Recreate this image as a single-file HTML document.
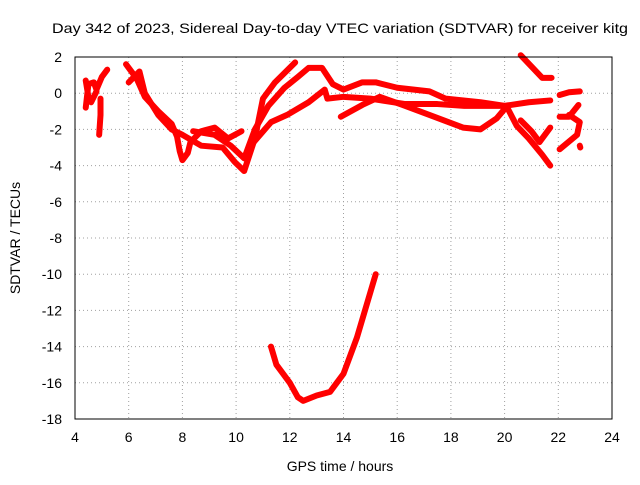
<!DOCTYPE html>
<html><head><meta charset="utf-8"><style>
body{margin:0;background:#fff;width:640px;height:480px;overflow:hidden}
svg text{font-family:"Liberation Sans",sans-serif;font-size:14px;fill:#000}
</style></head><body>
<svg id="chart" width="640" height="480" viewBox="0 0 640 480" xmlns="http://www.w3.org/2000/svg">
<text x="52" y="33" textLength="576" lengthAdjust="spacingAndGlyphs">Day 342 of 2023, Sidereal Day-to-day VTEC variation (SDTVAR) for receiver kitg</text>
<g id="grid"></g>
<g id="ticks"></g>
<g id="series"></g>
<rect x="75" y="57" width="537" height="362" fill="none" stroke="#000" stroke-width="1"/>
<text x="340" y="471" text-anchor="middle">GPS time / hours</text>
<text transform="translate(20,238) rotate(-90)" text-anchor="middle">SDTVAR / TECUs</text>
</svg>
<script>
const xTicks=[4,6,8,10,12,14,16,18,20,22,24];
const yTicks=[2,0,-2,-4,-6,-8,-10,-12,-14,-16,-18];
const s1=[[4.4,-0.8],[4.5,0.5],[4.7,0.6],[4.8,0.2],[5.0,0.9],[5.2,1.3]];
const s2=[[4.4,0.7],[4.5,-0.2],[4.6,-0.5],[4.8,0.1]];
const s3=[[4.95,-0.3],[4.95,-1.2],[4.9,-2.3]];
const s4=[[5.9,1.6],[6.3,0.8],[6.6,-0.2],[7.1,-1.0],[7.6,-1.7],[7.8,-2.4],[7.9,-3.2],[8.0,-3.7],[8.2,-3.3],[8.3,-2.7],[8.7,-2.1],[9.2,-1.9],[9.7,-2.5],[10.2,-2.1]];
const s5=[[6.0,0.6],[6.4,1.2],[6.6,0],[7.1,-1.2],[7.6,-2.0],[8.0,-2.3],[8.7,-2.9],[9.5,-3.0],[9.95,-3.8],[10.3,-4.3],[10.7,-2.5],[11.0,-0.3],[11.45,0.6],[12.2,1.7]];
const s6=[[8.4,-2.1],[9.2,-2.3],[9.8,-2.9],[10.3,-3.6],[10.7,-2.0],[11.2,-0.7],[11.8,0.3],[12.3,0.9],[12.7,1.4],[13.2,1.4],[13.6,0.5],[14.0,0.2],[14.7,0.6],[15.2,0.6],[16.0,0.3],[17.2,0.1],[17.8,-0.3],[19.1,-0.5],[20.0,-0.7],[20.9,-0.5],[21.7,-0.4]];
const s7=[[10.6,-2.8],[11.3,-1.6],[11.9,-1.2],[12.7,-0.5],[13.3,0.2],[13.4,-0.3],[14.0,-0.2],[15.0,-0.3],[16.3,-0.6],[17.5,-0.6],[18.5,-0.7],[20.0,-0.7]];
const s8=[[13.9,-1.3],[14.7,-0.65],[15.35,-0.2],[16.2,-0.65],[17.2,-1.2],[18.45,-1.9],[19.1,-2.0],[19.7,-1.4],[20.1,-0.7]];
const s9=[[20.1,-0.8],[20.45,-1.8],[20.9,-2.5],[21.4,-3.4],[21.7,-4.0]];
const s10=[[20.6,-1.5],[21.0,-2.1],[21.3,-2.7],[21.7,-1.9]];
const s11=[[20.6,2.1],[21.4,0.85],[21.75,0.85]];
const s12=[[22.05,-0.1],[22.4,0.05],[22.8,0.1]];
const s13=[[22.05,-1.3],[22.4,-1.3],[22.75,-0.65]];
const s14=[[22.4,-1.2],[22.8,-1.6],[22.7,-2.3],[22.05,-3.1]];
const s15=[[22.8,-2.9],[22.82,-3.0]];
const s16=[[11.3,-14],[11.5,-15],[12,-16],[12.3,-16.8],[12.5,-17],[13,-16.7],[13.5,-16.5],[14,-15.5],[14.5,-13.5],[15,-11],[15.2,-10]];
const allSeries=[s1,s2,s3,s4,s5,s6,s7,s8,s9,s10,s11,s12,s13,s14,s15,s16];
const L=75,R=612,T=57,B=419;
const xs=v=>L+(v-4)/20*(R-L);
const ys=v=>T+(2-v)/20*(B-T);
const NS="http://www.w3.org/2000/svg";
const grid=document.getElementById('grid'),ticks=document.getElementById('ticks'),ser=document.getElementById('series');
xTicks.forEach(t=>{
 const x=xs(t);
 if(t>4&&t<24){const l=document.createElementNS(NS,'line');
 
 
 l.setAttribute('x1',x);l.setAttribute('x2',x);l.setAttribute('y1',T);l.setAttribute('y2',B);
 l.setAttribute('stroke','#a0a0a0');l.setAttribute('stroke-dasharray','1,3');grid.appendChild(l);}
 const tx=document.createElementNS(NS,'text');
 
 
 tx.setAttribute('x',x);tx.setAttribute('y',B+23);tx.setAttribute('text-anchor','middle');tx.textContent=t;ticks.appendChild(tx);
});
yTicks.forEach(t=>{
 const y=ys(t);
 if(t<2&&t>-18){const l=document.createElementNS(NS,'line');
 
 
 l.setAttribute('x1',L);l.setAttribute('x2',R);l.setAttribute('y1',y);l.setAttribute('y2',y);
 l.setAttribute('stroke','#a0a0a0');l.setAttribute('stroke-dasharray','1,3');grid.appendChild(l);}
 const tx=document.createElementNS(NS,'text');
 
 
 tx.setAttribute('x',L-13);tx.setAttribute('y',y+5);tx.setAttribute('text-anchor','end');tx.textContent=t;ticks.appendChild(tx);
});
allSeries.forEach(s=>{
 const p=document.createElementNS(NS,'polyline');
 
 
 p.setAttribute('points',s.map(d=>xs(d[0])+','+ys(d[1])).join(' '));
 p.setAttribute('fill','none');p.setAttribute('stroke','#f00');p.setAttribute('stroke-width','6');
 p.setAttribute('stroke-linejoin','round');p.setAttribute('stroke-linecap','round');
 ser.appendChild(p);
});
</script>
</body></html>
